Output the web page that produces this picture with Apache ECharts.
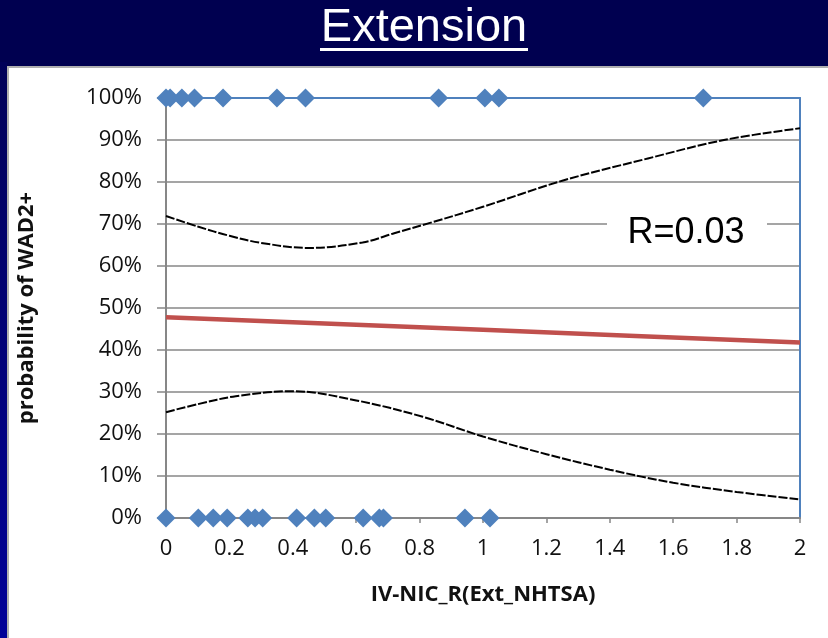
<!DOCTYPE html>
<html>
<head>
<meta charset="utf-8">
<script src="https://cdn.jsdelivr.net/npm/echarts@6/dist/echarts.min.js"></script>
<style>
  html, body { margin: 0; padding: 0; width: 828px; height: 638px; overflow: hidden; background: #000050; }
  #strip { position: absolute; left: 0; top: 62px; width: 7px; height: 576px; background: linear-gradient(#000058, #000098); }
  #panel { position: absolute; left: 7px; top: 66px; width: 821px; height: 572px; background: #ffffff; border-left: 2px solid #b0b0b0; border-top: 2px solid #b0b0b0; box-sizing: border-box; }
  #chart { position: absolute; left: 0; top: 0; width: 828px; height: 638px; }
</style>
</head>
<body>
<div id="strip"></div>
<div id="panel"></div>
<div id="chart"></div>
<script>
// ---- data ----
const titleText = "Extension";
const xName = "IV-NIC_R(Ext_NHTSA)";
const yName = "probability of WAD2+";
const rLabel = "R=0.03";

// observed cases with WAD2+ (y = 1)
const positiveX = [0.0, 0.013, 0.05, 0.09, 0.18, 0.35, 0.44, 0.86, 1.006, 1.05, 1.695];
// observed cases without WAD2+ (y = 0)
const negativeX = [0.0, 0.102, 0.149, 0.193, 0.258, 0.281, 0.305, 0.412, 0.468, 0.504, 0.622, 0.673, 0.686, 0.943, 1.022];

// fitted logistic curve
const fitX = [0, 0.5, 1.0, 1.5, 2.0];
const fitY = [0.478, 0.463, 0.448, 0.433, 0.418];

// upper confidence bound
const upperX = [0, 0.1, 0.2, 0.3, 0.45, 0.62, 0.72, 0.83, 1.0, 1.25, 1.52, 1.76, 2.0];
const upperY = [0.719, 0.694, 0.672, 0.655, 0.643, 0.656, 0.678, 0.702, 0.741, 0.803, 0.856, 0.900, 0.928];

// lower confidence bound
const lowerX = [0, 0.1, 0.22, 0.4, 0.6, 0.81, 1.0, 1.2, 1.4, 1.6, 1.8, 2.0];
const lowerY = [0.252, 0.271, 0.290, 0.302, 0.280, 0.241, 0.194, 0.152, 0.115, 0.084, 0.062, 0.044];

const zip = (xs, ys) => xs.map((x, i) => [x, ys[i]]);
const pts = (xs, y) => xs.map(x => [x, y]);

const chart = echarts.init(document.getElementById('chart'), null, { renderer: 'canvas' });
const gray = '#878787';
const blue = '#4F81BD';
const labelFont = 'Open Sans';

chart.setOption({
  backgroundColor: 'transparent',
  animation: false,
  grid: { left: 166, right: 28, top: 98, bottom: 120 },
  xAxis: [{
    type: 'value', min: 0, max: 2, interval: 0.2,
    name: xName, nameLocation: 'middle', nameGap: 66,
    nameTextStyle: { fontFamily: labelFont, fontWeight: 'bold', fontSize: 22, color: '#111' },
    axisLine: { show: true, onZero: false, lineStyle: { color: gray, width: 2 } },
    axisTick: { show: true, inside: false, length: 5, lineStyle: { color: gray, width: 1.5 } },
    axisLabel: { fontFamily: labelFont, fontSize: 22, color: '#111', margin: 20 },
    splitLine: { show: false }
  }, {
    type: 'value', min: 0, max: 2, position: 'top',
    axisLine: { show: true, onZero: false, lineStyle: { color: blue, width: 2 } },
    axisTick: { show: false }, axisLabel: { show: false }, splitLine: { show: false }
  }],
  yAxis: [{
    type: 'value', min: 0, max: 1, interval: 0.1,
    name: yName, nameLocation: 'middle', nameGap: 128, nameRotate: 90,
    nameTextStyle: { fontFamily: labelFont, fontWeight: 'bold', fontSize: 22, color: '#111' },
    axisLine: { show: true, onZero: false, lineStyle: { color: gray, width: 2 } },
    axisTick: { show: true, length: 9, lineStyle: { color: gray, width: 1.5 } },
    axisLabel: { fontFamily: labelFont, fontSize: 22, color: '#111', margin: 24,
      formatter: v => Math.round(v * 100) + '%' },
    splitLine: { show: true, lineStyle: { color: gray, width: 1.5 } }
  }, {
    type: 'value', min: 0, max: 1, position: 'right',
    axisLine: { show: true, onZero: false, lineStyle: { color: blue, width: 2 } },
    axisTick: { show: false }, axisLabel: { show: false }, splitLine: { show: false }
  }],
  series: [
    {
      type: 'line', data: zip(upperX, upperY), smooth: 0.35, symbol: 'none', z: 3,
      lineStyle: { color: '#000', width: 2, type: [9, 2] }
    },
    {
      type: 'line', data: zip(lowerX, lowerY), smooth: 0.35, symbol: 'none', z: 3,
      lineStyle: { color: '#000', width: 2, type: [9, 2] }
    },
    {
      type: 'line', data: zip(fitX, fitY), symbol: 'none', z: 4,
      lineStyle: { color: '#C0504D', width: 4.5 }
    },
    {
      type: 'scatter', data: pts(positiveX, 1), symbol: 'diamond', symbolSize: 19, z: 5,
      itemStyle: { color: blue, opacity: 1 }, clip: false
    },
    {
      type: 'scatter', data: pts(negativeX, 0), symbol: 'diamond', symbolSize: 19, z: 5,
      itemStyle: { color: blue, opacity: 1 }, clip: false
    }
  ],
  graphic: [
    { type: 'text', z: 100,
      style: { text: titleText, x: 424, y: 28, fill: '#ffffff', font: '47px "Liberation Sans", Arial, sans-serif', align: 'center', verticalAlign: 'middle' } },
    { type: 'rect', z: 100, shape: { x: 320, y: 48, width: 208, height: 3 }, style: { fill: '#ffffff' } },
    { type: 'rect', z: 100, shape: { x: 607, y: 205, width: 160, height: 54 }, style: { fill: '#ffffff' } },
    { type: 'text', z: 101,
      style: { text: rLabel, x: 686, y: 233, fill: '#000', font: '36px "Liberation Sans", Arial, sans-serif', align: 'center', verticalAlign: 'middle' } }
  ]
});
</script>
</body>
</html>
